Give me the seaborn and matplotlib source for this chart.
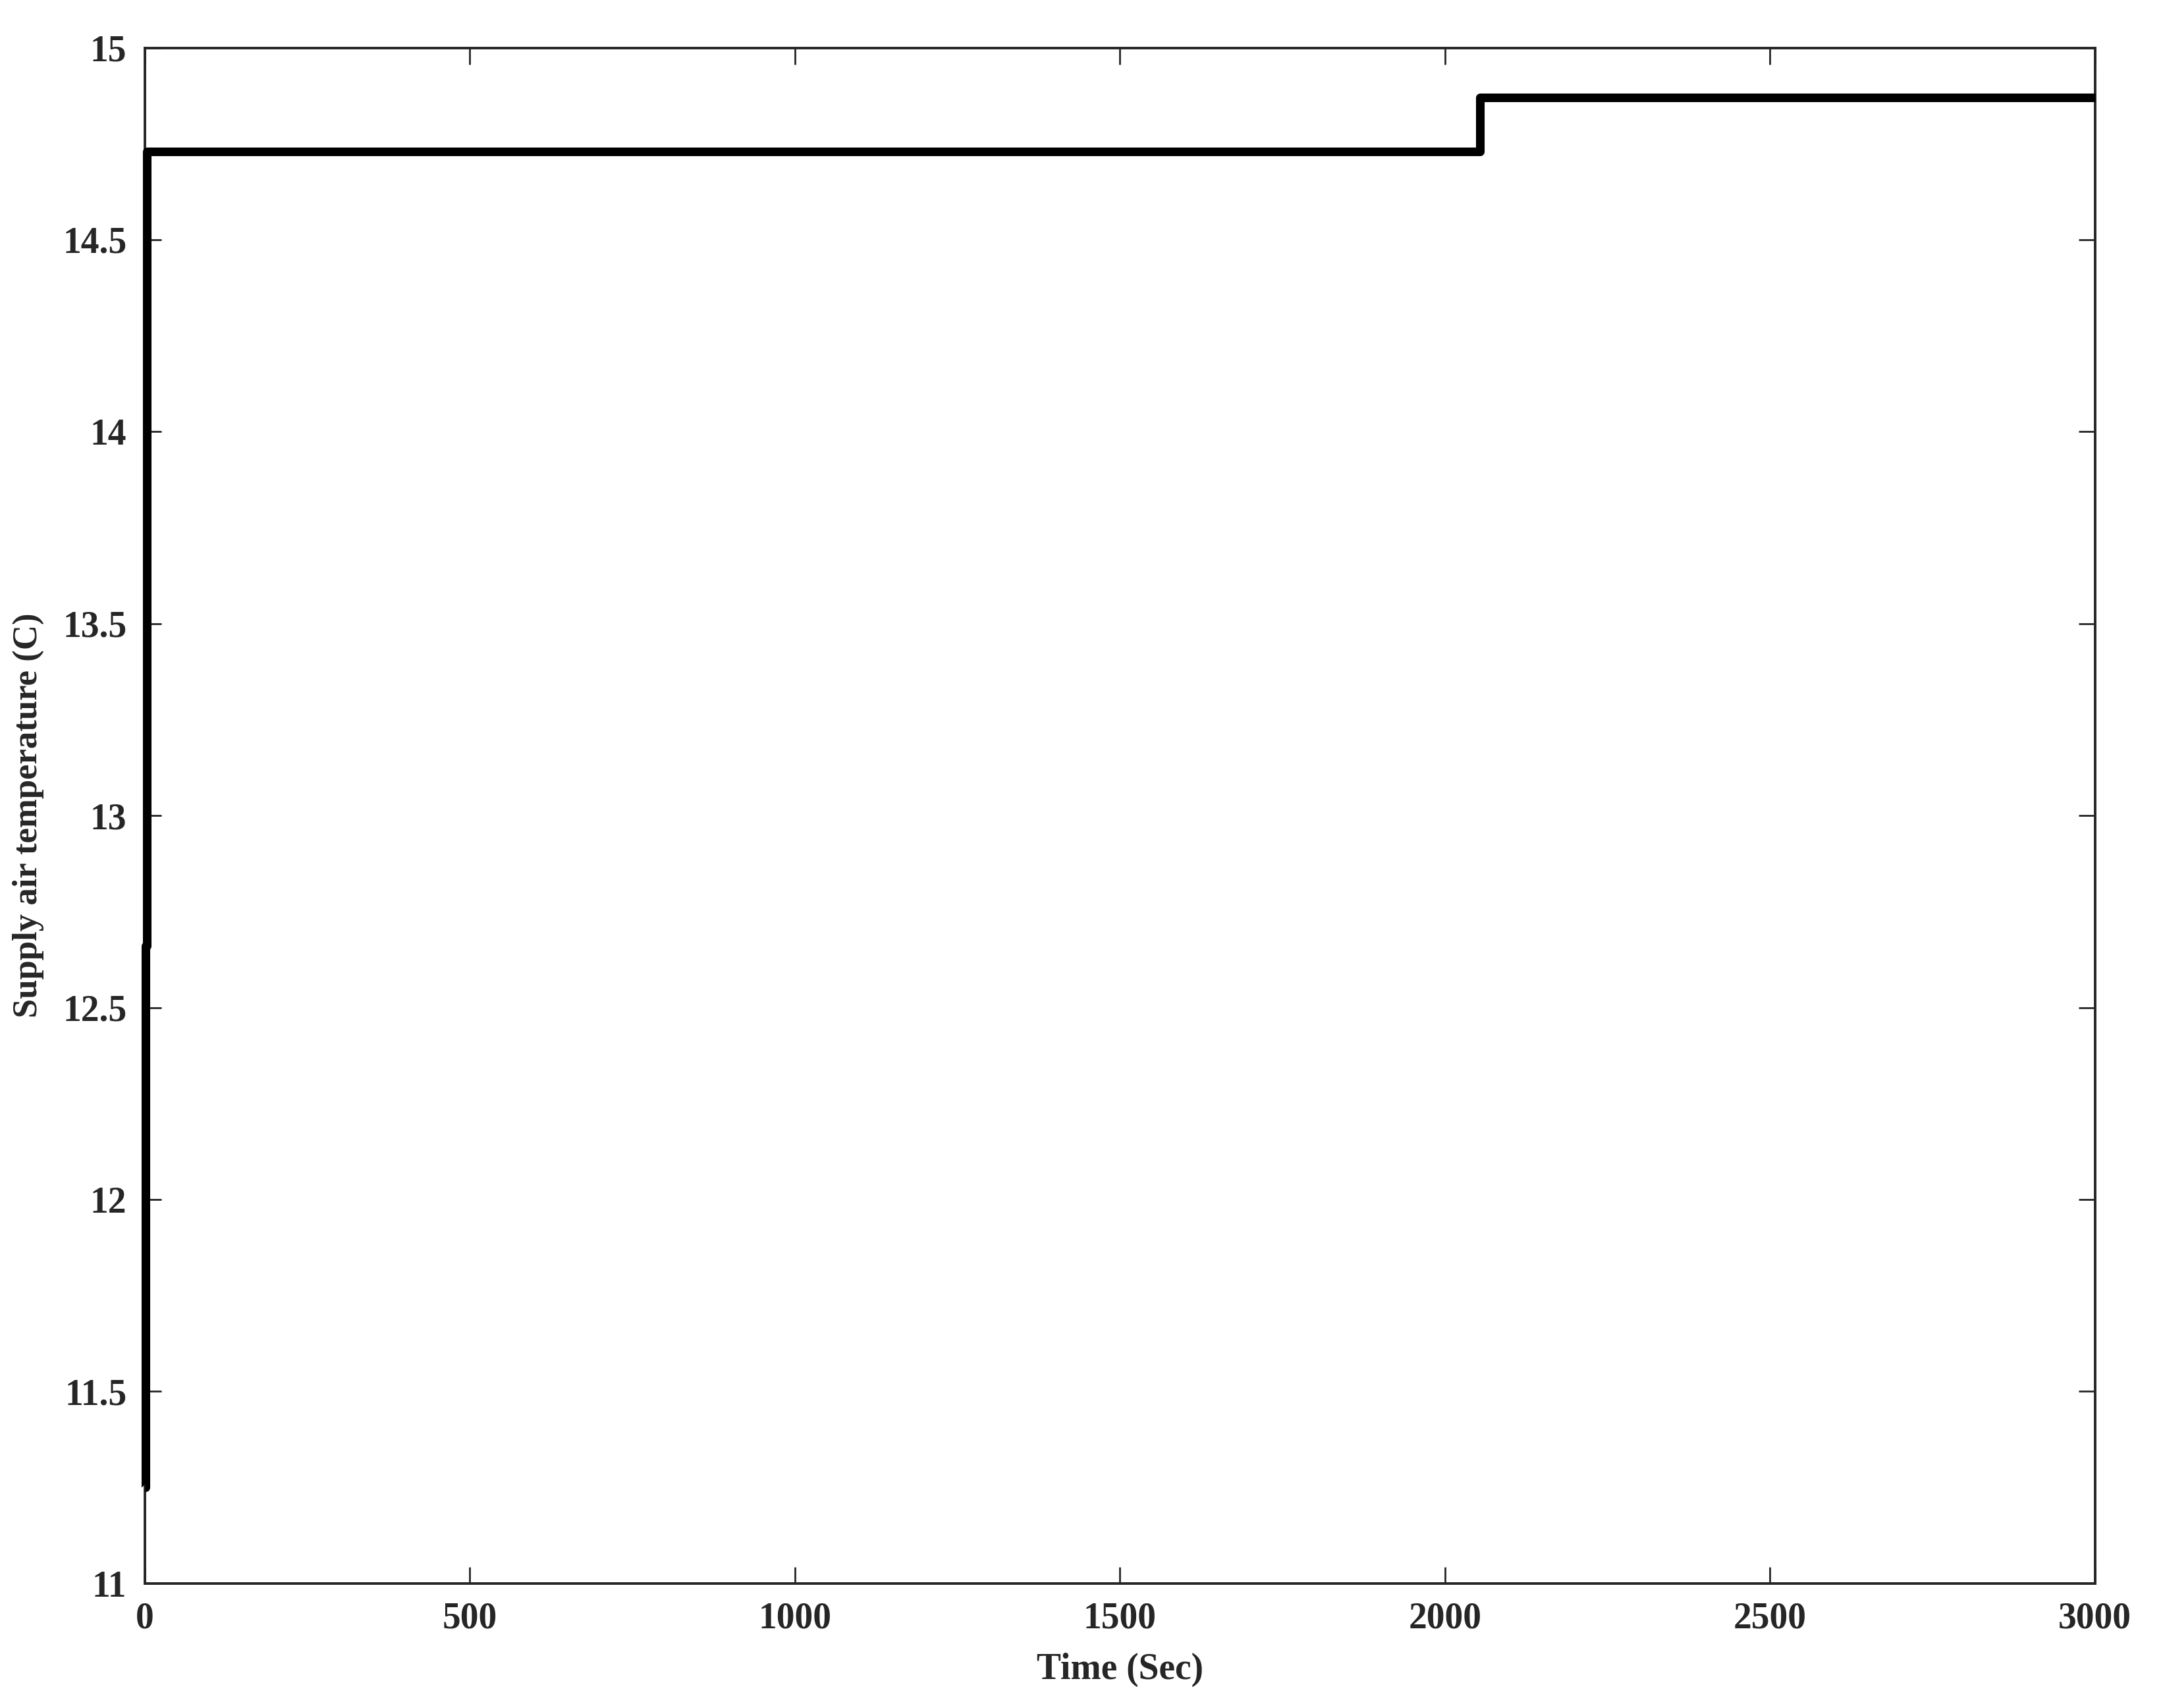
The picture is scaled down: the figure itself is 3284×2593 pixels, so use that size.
import matplotlib
matplotlib.use("Agg")
import matplotlib.pyplot as plt
import seaborn as sns
import pandas as pd

# Supply air temperature response (step trace)
time_sec = [0, 1, 3, 2054, 3000]
supply_temp = [11.25, 12.66, 14.73, 14.87, 14.87]

x_ticks = [0, 500, 1000, 1500, 2000, 2500, 3000]
y_ticks = [11, 11.5, 12, 12.5, 13, 13.5, 14, 14.5, 15]

sns.set_theme(style="ticks")
plt.rcParams['font.family'] = ['Liberation Serif', 'DejaVu Serif']
plt.rcParams['font.weight'] = 'bold'

df = pd.DataFrame({'time': time_sec, 'temp': supply_temp})

fig, ax = plt.subplots(figsize=(16.42, 12.965), dpi=200)
fig.subplots_adjust(left=0.067, right=0.9685, top=0.972, bottom=0.073)

# step trace drawn above the spines so the left edge stays solid black
sns.lineplot(data=df, x='time', y='temp', ax=ax, color='black', linewidth=4.7,
             drawstyle='steps-post', estimator=None, sort=False,
             solid_joinstyle='round', solid_capstyle='butt', clip_on=False, zorder=3)

ax.set_xlim(0, 3000)
ax.set_ylim(11, 15)
ax.set_xticks(x_ticks)
ax.set_yticks(y_ticks)
ax.set_yticklabels([f'{v:g}' for v in y_ticks])
ax.tick_params(direction='in', length=9, width=1.0, top=True, right=True,
               labelsize=20, color='#262626', pad=10)
for lbl in ax.get_xticklabels() + ax.get_yticklabels():
    lbl.set_fontweight('bold')
for sp in ax.spines.values():
    sp.set_linewidth(1.4)
    sp.set_color('#262626')

ax.set_xlabel('Time (Sec)', fontsize=20, fontweight='bold', labelpad=9)
ax.set_ylabel('Supply air temperature (C)', fontsize=19, fontweight='bold', labelpad=10)

plt.savefig('out.png', dpi=200, facecolor='white')
